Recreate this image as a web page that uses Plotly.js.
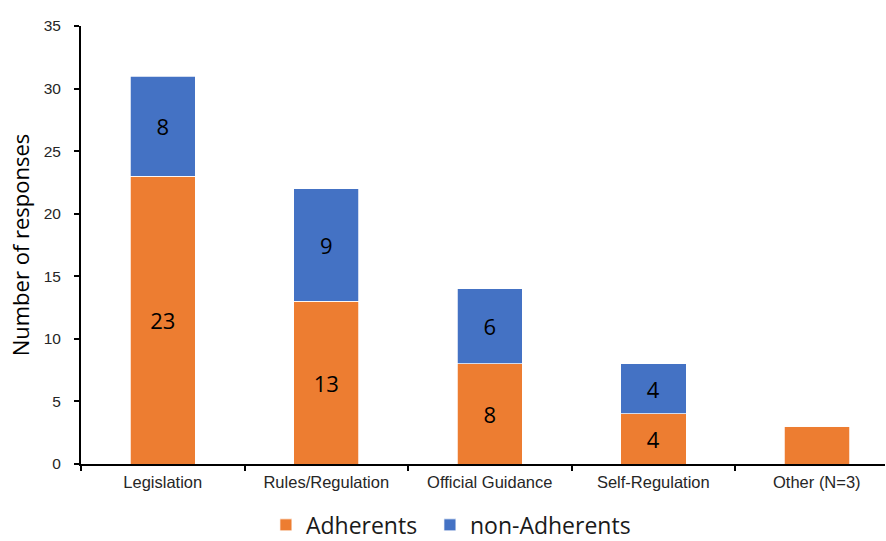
<!DOCTYPE html>
<html>
<head>
<meta charset="utf-8">
<script src="https://cdn.plot.ly/plotly-3.0.1.min.js"></script>
<style>html,body{margin:0;padding:0;background:#fff;}#chart{width:886px;height:541px;}</style>
</head>
<body>
<div id="chart"></div>
<script>
var categories = ["Legislation", "Rules/Regulation", "Official Guidance", "Self-Regulation", "Other (N=3)"];
var adherents = [23, 13, 8, 4, 3];
var nonAdherents = [8, 9, 6, 4, 0];
var adherentLabels = ["23", "13", "8", "4", ""];
var nonAdherentLabels = ["8", "9", "6", "4", ""];
var yTicks = [0, 5, 10, 15, 20, 25, 30, 35];

var labelFont = {family: "Open Sans, Noto Sans, sans-serif", size: 22, color: "#000000"};
var legendFont = {family: "Open Sans, Noto Sans, sans-serif", size: 23, color: "#1a1a1a"};

var traces = [
  {
    type: "bar", name: "Adherents", x: categories, y: adherents,
    text: adherentLabels, textposition: "inside", insidetextanchor: "middle",
    textfont: labelFont, constraintext: "none", hoverinfo: "skip",
    marker: {color: "#ED7D31", line: {color: "#ffffff", width: 0.75}},
    width: 0.4, legend: "legend"
  },
  {
    type: "bar", name: "non-Adherents", x: categories, y: nonAdherents,
    text: nonAdherentLabels, textposition: "inside", insidetextanchor: "middle",
    textfont: labelFont, constraintext: "none", hoverinfo: "skip",
    marker: {color: "#4472C4", line: {color: "#ffffff", width: 0.75}},
    width: 0.4, legend: "legend2"
  }
];

var layout = {
  width: 886, height: 541,
  margin: {l: 81, r: 1, t: 26, b: 77, pad: 0, autoexpand: false},
  barmode: "stack",
  paper_bgcolor: "#ffffff", plot_bgcolor: "#ffffff",
  showlegend: true,
  legend: {
    orientation: "h", x: 0.230, xanchor: "left", y: -0.09, yanchor: "top",
    font: legendFont, itemwidth: 30
  },
  legend2: {
    orientation: "h", x: 0.434, xanchor: "left", y: -0.09, yanchor: "top",
    font: legendFont, itemwidth: 30
  },
  xaxis: {
    type: "category", range: [-0.5, 4.417],
    showline: true, linecolor: "#000000", linewidth: 2,
    ticks: "outside", tickson: "boundaries", ticklen: 5, tickwidth: 2, tickcolor: "#000000",
    ticklabelstandoff: 2,
    showgrid: false, zeroline: false, automargin: false,
    tickfont: {family: "Liberation Sans, Arial, sans-serif", size: 16.5, color: "#262626"},
    fixedrange: true
  },
  yaxis: {
    range: [0, 35], tickvals: yTicks, ticktext: yTicks.map(String),
    showline: true, linecolor: "#000000", linewidth: 2,
    ticks: "outside", ticklen: 5, tickwidth: 2, tickcolor: "#000000",
    ticklabelstandoff: 10, automargin: false,
    showgrid: false, zeroline: false,
    tickfont: {family: "Liberation Sans, Arial, sans-serif", size: 15.5, color: "#262626"},
    title: {text: "Number of responses", standoff: 8,
            font: {family: "Open Sans, Noto Sans, sans-serif", size: 22, color: "#000000"}},
    fixedrange: true
  }
};

Plotly.newPlot("chart", traces, layout, {displayModeBar: false, staticPlot: true});
</script>
</body>
</html>
